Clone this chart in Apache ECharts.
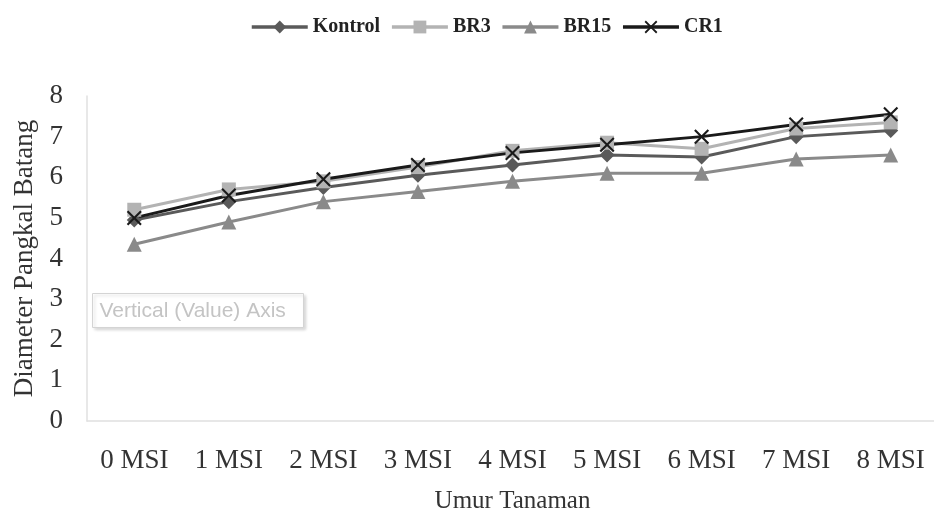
<!DOCTYPE html>
<html>
<head>
<meta charset="utf-8">
<script src="https://cdn.jsdelivr.net/npm/echarts@6/dist/echarts.min.js"></script>
<style>
  html, body { margin: 0; padding: 0; background: #fff; }
  #chart { width: 934px; height: 515px; }
</style>
</head>
<body>
<div id="chart"></div>
<script>
// Stem base diameter by plant age (weeks after planting)
const categories = ['0 MSI', '1 MSI', '2 MSI', '3 MSI', '4 MSI', '5 MSI', '6 MSI', '7 MSI', '8 MSI'];
const kontrol = [4.95, 5.4, 5.75, 6.05, 6.3, 6.55, 6.5, 7.0, 7.15];
const br3     = [5.2, 5.7, 5.9, 6.25, 6.65, 6.85, 6.7, 7.2, 7.35];
const br15    = [4.35, 4.9, 5.4, 5.65, 5.9, 6.1, 6.1, 6.45, 6.55];
const cr1     = [5.0, 5.55, 5.95, 6.3, 6.6, 6.8, 7.0, 7.3, 7.55];
const yTicks  = [0, 1, 2, 3, 4, 5, 6, 7, 8];

const serif = '"Liberation Serif", "Times New Roman", serif';
// X-shaped marker outline
const crossPath = 'path://M0,2 L2,0 L10,8 L18,0 L20,2 L12,10 L20,18 L18,20 L10,12 L2,20 L0,18 L8,10 Z';

const chart = echarts.init(document.getElementById('chart'), null, { renderer: 'canvas' });

function lineSeries(name, data, color, symbol, size) {
  return {
    name: name,
    type: 'line',
    data: data,
    symbol: symbol,
    symbolSize: size,
    showAllSymbol: true,
    lineStyle: { color: color, width: 3 },
    itemStyle: { color: color },
    emphasis: { disabled: true },
    animation: false
  };
}

chart.setOption({
  backgroundColor: '#ffffff',
  legend: {
    top: 12,
    left: 245,
    itemWidth: 56,
    itemHeight: 16,
    itemGap: 10,
    lineStyle: { width: 3.5 },
    textStyle: { fontFamily: serif, fontWeight: 'bold', fontSize: 20, color: '#222' },
    data: ['Kontrol', 'BR3', 'BR15', 'CR1']
  },
  grid: { left: 87, top: 96, bottom: 94, width: 851, containLabel: false, outerBoundsMode: 'none' },
  xAxis: {
    type: 'category',
    data: categories,
    boundaryGap: true,
    axisLine: { show: true, lineStyle: { color: '#e0e0e0', width: 1.5 } },
    axisTick: { show: false },
    axisLabel: {
      interval: 0,
      margin: 26,
      fontFamily: serif,
      fontSize: 27,
      color: '#333'
    },
    name: 'Umur Tanaman',
    nameLocation: 'middle',
    nameGap: 68,
    nameTextStyle: { fontFamily: serif, fontSize: 25, color: '#333' }
  },
  yAxis: {
    type: 'value',
    min: yTicks[0],
    max: yTicks[yTicks.length - 1],
    interval: 1,
    axisLine: { show: true, lineStyle: { color: '#e0e0e0', width: 1.5 } },
    axisTick: { show: false },
    splitLine: { show: false },
    axisLabel: {
      margin: 24,
      fontFamily: serif,
      fontSize: 27,
      color: '#333'
    },
    name: 'Diameter Pangkal Batang',
    nameLocation: 'middle',
    nameGap: 46,
    nameRotate: 90,
    nameTextStyle: { fontFamily: serif, fontSize: 27, color: '#333' }
  },
  graphic: [{
    type: 'group',
    left: 92,
    top: 293,
    children: [{
      type: 'rect',
      shape: { x: 0, y: 0, width: 211, height: 34 },
      style: {
        fill: '#ffffff',
        stroke: '#d4d4d4',
        lineWidth: 1,
        shadowBlur: 3,
        shadowOffsetX: 2,
        shadowOffsetY: 2,
        shadowColor: 'rgba(0,0,0,0.15)'
      }
    }, {
      type: 'text',
      x: 7,
      y: 7,
      style: {
        text: 'Vertical (Value) Axis',
        fontFamily: '"Liberation Sans", Arial, sans-serif',
        fontSize: 21,
        fill: '#c4c4c4'
      }
    }]
  }],
  series: [
    lineSeries('Kontrol', kontrol, '#5a5a5a', 'diamond', 15),
    lineSeries('BR3', br3, '#b3b3b3', 'rect', 14),
    lineSeries('BR15', br15, '#8a8a8a', 'triangle', 15),
    lineSeries('CR1', cr1, '#1a1a1a', crossPath, 15)
  ]
});
</script>
</body>
</html>
